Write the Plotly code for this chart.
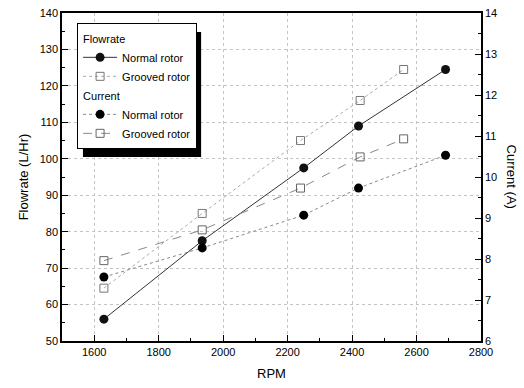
import plotly.graph_objects as go

rpm_normal = [1630, 1935, 2250, 2420, 2690]
rpm_grooved = [1630, 1935, 2240, 2425, 2560]
flow_normal = [56, 77.5, 97.5, 109, 124.5]
flow_grooved = [64.5, 85, 105, 116, 124.5]
curr_normal = [7.56, 8.27, 9.07, 9.73, 10.53]
curr_grooved = [7.96, 8.71, 9.73, 10.49, 10.93]

FONT = "Liberation Sans, Arial, sans-serif"

fig = go.Figure()
fig.add_trace(go.Scatter(
    x=rpm_normal, y=flow_normal, mode="lines+markers", name="Normal rotor",
    legendgroup="flow", legendgrouptitle_text="Flowrate",
    line=dict(color="#333333", width=1),
    marker=dict(symbol="circle", size=9, color="#111111")))
fig.add_trace(go.Scatter(
    x=rpm_grooved, y=flow_grooved, mode="lines+markers", name="Grooved rotor",
    legendgroup="flow",
    line=dict(color="#aaaaaa", width=1, dash="dot"),
    marker=dict(symbol="square-open", size=8, color="#777777", line=dict(width=1))))
fig.add_trace(go.Scatter(
    x=rpm_normal, y=curr_normal, mode="lines+markers", name="Normal rotor",
    legendgroup="curr", legendgrouptitle_text="Current", yaxis="y2",
    line=dict(color="#888888", width=1, dash="dot"),
    marker=dict(symbol="circle", size=9, color="#000000")))
fig.add_trace(go.Scatter(
    x=rpm_grooved, y=curr_grooved, mode="lines+markers", name="Grooved rotor",
    legendgroup="curr", yaxis="y2",
    line=dict(color="#888888", width=1, dash="dash"),
    marker=dict(symbol="square-open", size=8, color="#666666", line=dict(width=1))))

axis_common = dict(showline=True, linecolor="black", linewidth=1.5,
                   ticks="inside", tickcolor="black", tickfont=dict(size=11, color="black", family=FONT),
                   zeroline=False, automargin=False)

fig.update_layout(
    width=524, height=388,
    margin=dict(l=62, r=43, t=13, b=47),
    paper_bgcolor="white", plot_bgcolor="white",
    font=dict(family=FONT, color="black"),
    showlegend=True,
    legend=dict(x=0.036, y=0.97, xanchor="left", yanchor="top",
                bgcolor="white", bordercolor="black", borderwidth=1,
                font=dict(size=11, family=FONT), tracegroupgap=0, itemwidth=34,
                grouptitlefont=dict(size=11, family=FONT)),
    xaxis=dict(range=[1500, 2800], tickvals=[1600, 1800, 2000, 2200, 2400, 2600, 2800],
               ticklen=6, mirror=True,
               minor=dict(dtick=100, tick0=1500, ticklen=3, ticks="inside", tickcolor="black"),
               showgrid=True, gridcolor="#c4c4c4", griddash="dot", gridwidth=1,
               title=dict(text="RPM", font=dict(size=13), standoff=12), **axis_common),
    yaxis=dict(range=[50, 140], dtick=10, ticklen=6, mirror=False,
               minor=dict(dtick=5, ticklen=3, ticks="inside", tickcolor="black"),
               showgrid=True, gridcolor="#c4c4c4", griddash="dot", gridwidth=1,
               title=dict(text="Flowrate (L/Hr)", font=dict(size=13), standoff=8), **axis_common),
    yaxis2=dict(range=[6, 14], dtick=1, ticklen=6, overlaying="y", side="right",
                minor=dict(dtick=0.5, ticklen=3, ticks="inside", tickcolor="black"),
                showgrid=False, **axis_common),
    annotations=[dict(text="Current (A)", textangle=90, xref="paper", yref="paper",
                      x=1.075, y=0.5, xanchor="center", yanchor="middle", showarrow=False,
                      font=dict(size=13, family=FONT))],
    shapes=[dict(type="rect", xref="paper", yref="paper",
                 x0=0.05, x1=0.332, y0=0.561, y1=0.942,
                 fillcolor="black", line=dict(width=0), layer="above")],
)

fig.write_html("out.html")
